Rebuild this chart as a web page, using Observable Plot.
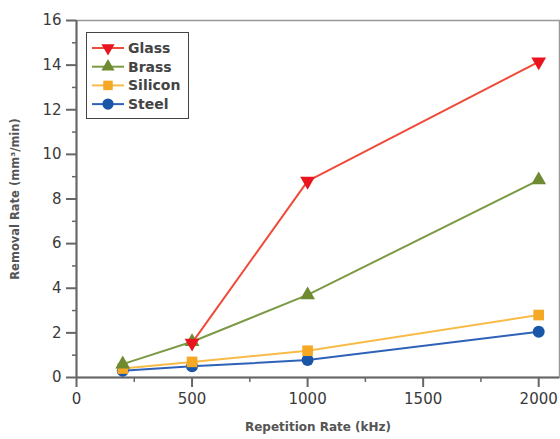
<!DOCTYPE html>
<html>
<head>
<meta charset="utf-8">
<script src="https://cdn.jsdelivr.net/npm/d3@7"></script>
<script src="https://cdn.jsdelivr.net/npm/@observablehq/plot@0.6"></script>
<style>
  body { margin: 0; background: #fff; }
  #wrap { position: relative; width: 560px; height: 439px; }
  #legend { position: absolute; left: 86px; top: 32px; width: 101px; height: 85px;
    border: 1.5px solid #444; background: #fff; font-family: "DejaVu Sans", sans-serif; }
</style>
</head>
<body>
<div id="wrap"><div id="legend"></div></div>
<script>
const rates = [200, 500, 1000, 2000];
const glass = [null, 1.55, 8.8, 14.15];
const brass = [0.6, 1.6, 3.7, 8.85];
const silicon = [0.4, 0.7, 1.2, 2.8];
const steel = [0.3, 0.5, 0.78, 2.05];
const xTicks = [0, 500, 1000, 1500, 2000];
const xMinor = [250, 750, 1250, 1750];
const yTicks = [0, 2, 4, 6, 8, 10, 12, 14, 16];
const yMinor = [1, 3, 5, 7, 9, 11, 13, 15];

const series = [
  {name: "Glass", values: glass, line: "#f04a38", fill: "#e8141e", symbol: "triangle", rotate: 180, r: 5.5},
  {name: "Brass", values: brass, line: "#7b9a45", fill: "#6e8b32", symbol: "triangle", rotate: 0, r: 5.5},
  {name: "Silicon", values: silicon, line: "#f8bb48", fill: "#f5a823", symbol: "square", rotate: 0, r: 6},
  {name: "Steel", values: steel, line: "#2e62b8", fill: "#1a56a8", symbol: "circle", rotate: 0, r: 6}
];

const rows = s => rates.map((x, i) => ({x, y: s.values[i]})).filter(d => d.y != null);
const fmt = d3.format("d");

const marks = [
  Plot.frame({stroke: "#999", strokeWidth: 1.5}),
  Plot.ruleY([0], {stroke: "#666", strokeWidth: 2}),
  Plot.ruleX([0], {stroke: "#666", strokeWidth: 2}),
  Plot.text(["Removal Rate (mm³/min)"], {frameAnchor: "left", dx: -61, rotate: -90, textAnchor: "middle", fontSize: 11.5, fontWeight: "bold", fill: "#555"}),
  Plot.text(["Repetition Rate (kHz)"], {frameAnchor: "bottom", dy: 53, textAnchor: "middle", fontSize: 12, fontWeight: "bold", fill: "#555"})
];
for (const s of series) {
  marks.push(Plot.line(rows(s), {x: "x", y: "y", stroke: s.line, strokeWidth: 2}));
}
for (const s of series.slice().reverse()) {
  marks.push(Plot.dot(rows(s), {x: "x", y: "y", symbol: s.symbol, r: s.r, fill: s.fill, rotate: s.rotate, stroke: "none"}));
}
marks.push(
  Plot.axisY({ticks: yTicks, tickSize: 10, text: null, stroke: "#666", strokeWidth: 2, label: null}),
  Plot.axisY({ticks: yTicks, tickFormat: fmt, tickSize: 0, tickPadding: 15, fill: "#3a3a3a", fontSize: 15, label: null}),
  Plot.axisY({ticks: yMinor, tickSize: 4, text: null, stroke: "#666", strokeWidth: 1.5, label: null}),
  Plot.axisX({ticks: xTicks, tickSize: 10, text: null, stroke: "#666", strokeWidth: 2, label: null}),
  Plot.axisX({ticks: xTicks, tickFormat: fmt, tickSize: 0, tickPadding: 16, fill: "#3a3a3a", fontSize: 15, label: null}),
  Plot.axisX({ticks: xMinor, tickSize: 5, text: null, stroke: "#666", strokeWidth: 1.5, label: null})
);

const chart = Plot.plot({
  width: 560,
  height: 439,
  marginLeft: 76,
  marginRight: 1,
  marginTop: 20,
  marginBottom: 62,
  style: {fontFamily: "DejaVu Sans, sans-serif", background: "#fff"},
  x: {domain: [0, 2090]},
  y: {domain: [0, 16]},
  marks
});
const wrap = document.getElementById("wrap");
wrap.insertBefore(chart, wrap.firstChild);

// Legend
const leg = d3.select("#legend").append("svg").attr("width", 101).attr("height", 85);
const symPath = {
  triangle: d3.symbol(d3.symbolTriangle, 75)(),
  square: d3.symbol(d3.symbolSquare, 90)(),
  circle: d3.symbol(d3.symbolCircle, 100)()
};
series.forEach((s, i) => {
  const g = leg.append("g").attr("transform", `translate(0,${15 + i * 18.7})`);
  g.append("line").attr("x1", 5).attr("x2", 37).attr("stroke", s.line).attr("stroke-width", 2);
  g.append("path").attr("d", symPath[s.symbol]).attr("fill", s.fill)
    .attr("transform", `translate(21,0) rotate(${s.rotate})`);
  g.append("text").attr("x", 41).attr("dy", "0.36em").attr("font-size", 14)
    .attr("font-weight", "600").attr("fill", "#444").text(s.name);
});
</script>
</body>
</html>
